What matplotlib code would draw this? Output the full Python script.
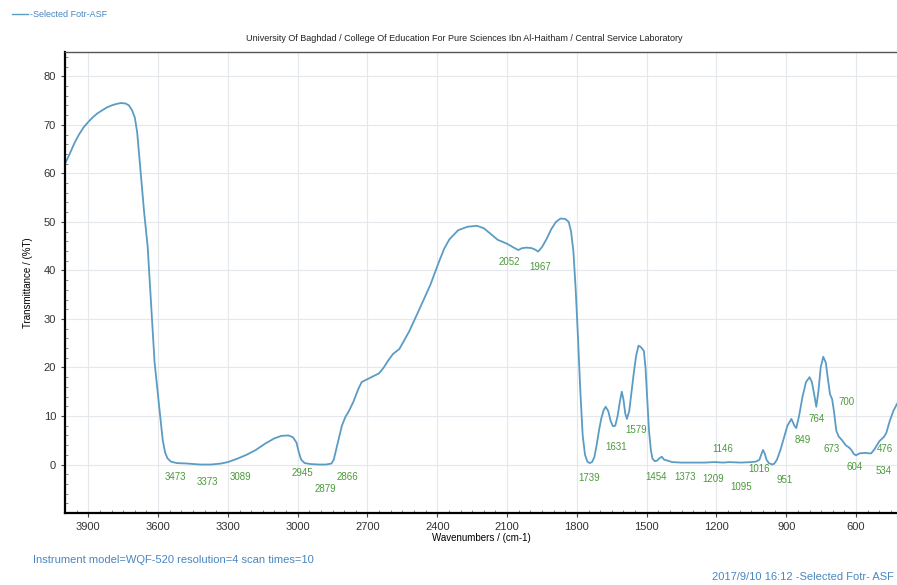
import matplotlib
matplotlib.use("Agg")
from matplotlib import pyplot as plt
from matplotlib.ticker import MultipleLocator

plt.rcParams['font.family'] = ['Liberation Sans', 'DejaVu Sans']

# Spectrum (wavenumber cm-1, %T)
wavenumber = [4000, 3980, 3960, 3940, 3920, 3900, 3880, 3860, 3840, 3820, 3800, 3780,
              3760, 3740, 3725, 3712, 3700, 3690, 3680, 3670, 3660, 3645, 3630, 3615,
              3600, 3590, 3580, 3570, 3560, 3545, 3520, 3473, 3420, 3373, 3330, 3300,
              3260, 3220, 3180, 3140, 3100, 3070, 3040, 3020, 3005, 2995, 2985, 2970,
              2945, 2910, 2879, 2855, 2845, 2835, 2825, 2810, 2795, 2780, 2760, 2740,
              2725, 2700, 2670, 2650, 2630, 2610, 2590, 2563, 2520, 2477, 2430, 2391,
              2370, 2348, 2310, 2270, 2230, 2200, 2170, 2140, 2120, 2100, 2075, 2052,
              2035, 2015, 1995, 1980, 1966, 1950, 1930, 1910, 1890, 1870, 1850, 1835,
              1825, 1815, 1805, 1795, 1785, 1775, 1765, 1755, 1745, 1735, 1725, 1715,
              1705, 1695, 1685, 1676, 1665, 1655, 1645, 1635, 1625, 1615, 1607, 1600,
              1592, 1585, 1575, 1565, 1555, 1545, 1535, 1525, 1512, 1505, 1498, 1490,
              1482, 1475, 1465, 1455, 1445, 1435, 1425, 1410, 1390, 1350, 1300, 1250,
              1209, 1170, 1146, 1095, 1050, 1030, 1015, 1008, 1000, 992, 985, 975,
              960, 951, 940, 925, 910, 895, 878, 865, 857, 845, 830, 815, 800, 790,
              780, 771, 762, 752, 741, 730, 722, 712, 703, 695, 685, 675, 660, 645,
              630, 620, 610, 600, 585, 560, 545, 535, 520, 500, 480, 470, 455, 440, 424]
transmittance = [62.0, 64.0, 66.2, 68.0, 69.5, 70.6, 71.6, 72.4, 73.0, 73.6, 74.0, 74.3,
                 74.5, 74.4, 74.0, 73.0, 71.5, 68.5, 63.0, 57.5, 52.0, 45.0, 33.0, 21.0,
                 14.0, 9.5, 5.0, 2.5, 1.3, 0.6, 0.3, 0.2, 0.0, 0.0, 0.2, 0.5,
                 1.2, 2.0, 3.0, 4.3, 5.4, 5.9, 6.0, 5.6, 4.5, 2.5, 1.0, 0.3,
                 0.1, 0.0, 0.0, 0.2, 1.0, 3.0, 5.0, 8.0, 9.8, 11.0, 13.0, 15.5,
                 17.0, 17.6, 18.3, 18.8, 20.0, 21.5, 22.8, 23.8, 27.5, 32.0, 37.0, 42.0,
                 44.5, 46.4, 48.3, 49.0, 49.2, 48.7, 47.5, 46.3, 45.9, 45.5, 44.8, 44.2,
                 44.6, 44.7, 44.6, 44.3, 43.9, 44.8, 46.5, 48.5, 50.0, 50.7, 50.6, 50.0,
                 48.0, 44.0, 36.0, 26.0, 15.0, 6.0, 2.0, 0.6, 0.3, 0.5, 1.5, 4.0,
                 7.0, 9.5, 11.2, 11.9, 11.0, 9.0, 7.9, 8.0, 10.0, 13.0, 15.0, 13.5,
                 10.5, 9.4, 11.0, 15.0, 19.0, 22.5, 24.5, 24.2, 23.4, 20.0, 14.0, 7.0,
                 3.0, 1.2, 0.7, 0.8, 1.3, 1.6, 1.0, 0.8, 0.5, 0.4, 0.4, 0.4,
                 0.5, 0.4, 0.5, 0.4, 0.5, 0.6, 1.0, 2.0, 3.0, 2.2, 1.0, 0.3,
                 0.0, 0.2, 1.0, 3.0, 5.5, 8.0, 9.4, 8.0, 7.5, 10.0, 14.0, 17.0, 18.0, 17.0,
                 14.5, 11.9, 15.0, 20.0, 22.2, 21.0, 18.0, 14.5, 13.5, 11.0, 7.0, 5.8, 5.0, 4.0,
                 3.5, 3.0, 2.2, 1.9, 2.3, 2.4, 2.3, 2.3, 3.2, 4.8, 5.7, 6.5, 9.0, 11.0, 12.5]

# Peak labels and where they sit on the chart
peak_labels = ['3473', '3373', '3089', '2945', '2879', '2866', '2052', '1967',
               '1739', '1631', '1579', '1454', '1373', '1209', '1146', '1095',
               '1016', '951', '849', '764', '700', '673', '604', '534', '476']
label_x = [3527, 3386, 3244, 2978, 2880, 2786, 2091, 1958,
           1748, 1633, 1547, 1461, 1337, 1213, 1174, 1093,
           1016, 908, 827, 771, 643, 707, 604, 480, 475]
label_y = [-2.5, -3.5, -2.5, -1.8, -5.1, -2.5, 41.7, 40.7,
           -2.7, 3.7, 7.2, -2.5, -2.5, -2.9, 3.3, -4.7,
           -1.0, -3.1, 5.1, 9.4, 12.9, 3.1, -0.6, -1.4, 3.1]

line_color = '#5b9cc4'
label_color = '#4a9a3a'
text_blue = '#4a86c0'

fig = plt.figure(figsize=(8.97, 5.85), dpi=100)
ax = fig.add_axes([0.0725, 0.123, 0.9275, 0.788])

ax.plot(wavenumber, transmittance, color=line_color, lw=1.3)
for lab, lx, ly in zip(peak_labels, label_x, label_y):
    ax.text(lx, ly, lab, color=label_color, fontsize=7, ha='center', va='center')

ax.set_xlim(4000, 424)
ax.set_ylim(-10, 85)
ax.xaxis.set_minor_locator(MultipleLocator(50))
ax.yaxis.set_minor_locator(MultipleLocator(2))
ax.set_xticks(range(600, 4000, 300))
ax.set_yticks(range(0, 90, 10))
ax.grid(True, which='major', color='#e4e8ec', lw=0.8)
ax.tick_params(which='major', labelsize=8, length=3, color='#444444', labelcolor='#333333')
ax.tick_params(which='minor', length=2, direction='in', color='#777777')

for side in ['left', 'bottom']:
    ax.spines[side].set_linewidth(1.6)
ax.spines['top'].set_linewidth(1.0)
ax.spines['top'].set_color('#555555')
ax.spines['right'].set_visible(False)

ax.set_xlabel('Wavenumbers / (cm-1)', fontsize=7, labelpad=1)
ax.set_ylabel('Transmittance / (%T)', fontsize=7, labelpad=8)

fig.text(0.518, 0.935, 'University Of Baghdad / College Of Education For Pure Sciences Ibn Al-Haitham / Central Service Laboratory',
         fontsize=6.5, ha='center', va='center', color='#222222')
fig.add_artist(plt.Line2D([0.013, 0.031], [0.976, 0.976], color=line_color, lw=1))
fig.text(0.034, 0.976, '-Selected Fotr-ASF', fontsize=6.5, color=text_blue, va='center')
fig.text(0.037, 0.043, 'Instrument model=WQF-520 resolution=4 scan times=10',
         fontsize=8, color=text_blue, va='center')
fig.text(0.997, 0.014, '2017/9/10 16:12 -Selected Fotr- ASF', fontsize=8,
         color=text_blue, ha='right', va='center')

fig.savefig('out.png', dpi=100)
